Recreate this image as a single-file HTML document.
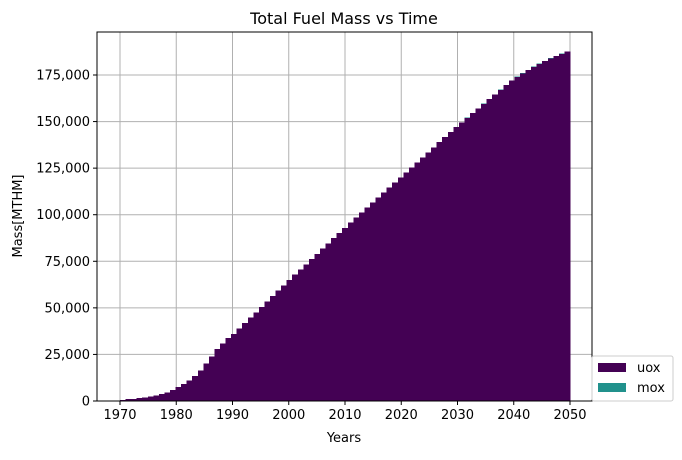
<!DOCTYPE html>
<html><head><meta charset="utf-8"><style>
body{margin:0;background:#fff;}
svg text{font-family:"DejaVu Sans","Liberation Sans",sans-serif;fill:#000;}
</style></head><body>
<svg id="chart" width="682" height="455" viewBox="0 0 682 455">
<text x="344" y="24" font-size="16" text-anchor="middle">Total Fuel Mass vs Time</text>
<g id="grid"></g>
<g id="bars" shape-rendering="crispEdges"></g>
<rect x="97" y="32" width="495" height="369" fill="none" stroke="#000" stroke-width="1"/>
<g id="ticks"></g>
<text x="344" y="442" font-size="13" text-anchor="middle">Years</text>
<text transform="translate(22,216) rotate(-90)" font-size="13" text-anchor="middle">Mass[MTHM]</text>
<g>
<rect x="592" y="356" width="81" height="45" rx="2" fill="#fff" stroke="#ccc"/>
<rect x="598" y="363" width="28" height="9" fill="#440154"/>
<text x="637" y="372" font-size="13">uox</text>
<rect x="598" y="383" width="28" height="9" fill="#21918c"/>
<text x="637" y="392" font-size="13">mox</text>
</g>
</svg>
<script>
const years=[];for(let y=1970;y<=2050;y++)years.push(y);
const uox=[500,1000,1200,1500,1900,2400,3000,3700,4600,5800,7500,9000,11000,13500,16500,20000,24000,28000,31000,33700,36000,
38900,41800,44700,47600,50500,53400,56300,59200,62100,65000,
67800,70600,73400,76200,79000,81800,84600,87400,90200,93000,
95700,98400,101100,103800,106500,109200,111900,114600,117300,120000,
122700,125400,128100,130800,133500,136200,138900,141600,144300,147000,
149500,152000,154500,157000,159500,162000,164500,167000,169500,172000,
174000,175900,177700,179400,181000,182500,183900,185200,186400,187500];
const mox=[0,0,0,0,0,0,0,0,0,0,0,0,0,0,0,0,0,0,0,0,0,0,0,0,0,0,0,0,0,0,0,0,0,0,0,0,0,0,0,0,0,
0,0,0,0,0,0,0,0,0,0,0,0,0,0,0,0,0,0,0,0,100,100,100,100,100,100,100,100,100,100,100,100,100,100,100,100,100,100,100,100];
const xTicks=[1970,1980,1990,2000,2010,2020,2030,2040,2050];
const yTicks=[0,25000,50000,75000,100000,125000,150000,175000];
const yTickLabels=["0","25,000","50,000","75,000","100,000","125,000","150,000","175,000"];
const X=v=>120+(v-1970)*5.625;
const Y=v=>401-v*326/175000;
const NS="http://www.w3.org/2000/svg";
function mk(tag,attrs,parent){const e=document.createElementNS(NS,tag);for(const k in attrs)e.setAttribute(k,attrs[k]);parent.appendChild(e);return e;}
const grid=document.getElementById('grid'),bars=document.getElementById('bars'),ticks=document.getElementById('ticks');
xTicks.forEach(t=>{
 const l=mk('line',{x1:X(t),x2:X(t),y1:32,y2:401,stroke:'#b0b0b0','stroke-width':1},grid);
 
 
 const tk=mk('line',{x1:X(t),x2:X(t),y1:401,y2:405,stroke:'#000'},ticks);
 
 
 const tx=mk('text',{x:X(t),y:419,'font-size':13,'text-anchor':'middle'},ticks);tx.textContent=t;
 
 
});
yTicks.forEach((t,i)=>{
 const l=mk('line',{x1:97,x2:592,y1:Y(t),y2:Y(t),stroke:'#b0b0b0','stroke-width':1},grid);
 
 
 const tk=mk('line',{x1:93,x2:97,y1:Y(t),y2:Y(t),stroke:'#000'},ticks);
 
 
 const tx=mk('text',{x:90,y:Y(t)+4.5,'font-size':13,'text-anchor':'end'},ticks);tx.textContent=yTickLabels[i];
 
 
});
const n=years.length;
const bw=(X(years[n-1])-X(years[0]))/n;
years.forEach((yr,i)=>{
 const x0=X(years[0])+i*bw;
 const r=mk('rect',{x:x0,y:Y(uox[i]),width:bw+0.6,height:Y(0)-Y(uox[i]),fill:'#440154'},bars);
 
 
 if(mox[i]>0){const m=mk('rect',{x:x0,y:Y(uox[i]+mox[i]),width:bw+0.6,height:Y(uox[i])-Y(uox[i]+mox[i]),fill:'#21918c'},bars);
 
 }
});
</script>
</body></html>
